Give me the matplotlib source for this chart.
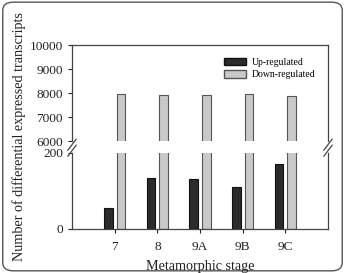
import numpy as np
import matplotlib.pyplot as plt
from matplotlib.patches import FancyBboxPatch, Patch
from matplotlib.lines import Line2D

plt.rcParams['font.family'] = ['Liberation Serif', 'DejaVu Serif']

stages = ['7', '8', '9A', '9B', '9C']
up_regulated = [56, 133, 131, 110, 171]
down_regulated = [7970, 7930, 7930, 7940, 7890]

up_color = '#2b2b2b'
down_color = '#c9c9c9'
x = np.arange(len(stages))
w = 0.2

fig = plt.figure(figsize=(3.45, 2.73), dpi=100)
left, width = 0.2087, 0.742
ax_top = fig.add_axes([left, 0.4835, width, 0.3516])
ax_bot = fig.add_axes([left, 0.1612, width, 0.2784])

for ax in (ax_top, ax_bot):
    ax.bar(x + 0.15, down_regulated, w, color=down_color, edgecolor='#555555', linewidth=0.8)
    ax.set_xlim(-1, 5)
    ax.tick_params(direction='out', length=3, width=0.8, labelsize=9.6, colors='#222222')
    for s in ax.spines.values():
        s.set_color('#444444')
        s.set_linewidth(0.9)
ax_bot.bar(x - 0.15, up_regulated, w, color=up_color, edgecolor='#111111', linewidth=0.8)

ax_top.set_ylim(6000, 10000)
ax_top.set_yticks([6000, 7000, 8000, 9000, 10000])
ax_top.spines['bottom'].set_visible(False)
ax_top.tick_params(axis='x', bottom=False, labelbottom=False)

ax_bot.set_ylim(0, 200)
ax_bot.set_yticks([0, 200])
ax_bot.spines['top'].set_visible(False)
ax_bot.set_xticks(x)
ax_bot.set_xticklabels(stages)
ax_bot.tick_params(axis='x', pad=6)

# break marks
for xb in (left, left + width):
    for dy in (0.0, 0.022):
        y0 = 0.448 + dy
        fig.add_artist(Line2D([xb - 0.012, xb + 0.012], [y0 - 0.02, y0 + 0.02],
                              transform=fig.transFigure, color='#444444', linewidth=0.9))

handles = [Patch(facecolor=up_color, edgecolor='#111111', label='Up-regulated'),
           Patch(facecolor=down_color, edgecolor='#555555', label='Down-regulated')]
ax_top.legend(handles=handles, loc='upper right', fontsize=7, frameon=False,
              handlelength=2.3, handleheight=0.8, handletextpad=0.6,
              borderaxespad=0.9, labelspacing=0.35)

fig.text(0.055, 0.5, 'Number of differential expressed transcripts', rotation=90,
         ha='center', va='center', fontsize=10.2, color='#222222')
fig.text(left + width / 2, 0.025, 'Metamorphic stage', ha='center', va='center',
         fontsize=10.2, color='#222222')

border = FancyBboxPatch((0.008, 0.008), 0.984, 0.984, boxstyle='round,pad=0,rounding_size=0.03',
                        transform=fig.transFigure, facecolor='none', edgecolor='#555555',
                        linewidth=1.0)
fig.patches.append(border)

fig.savefig('out.png', dpi=100)
